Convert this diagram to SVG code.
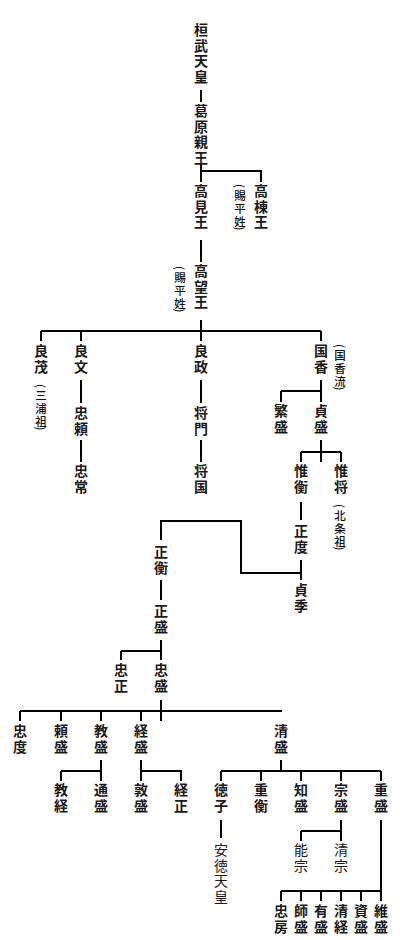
<svg xmlns="http://www.w3.org/2000/svg" width="400" height="940" viewBox="0 0 400 940">
<style>
text{font-family:"Noto Sans CJK JP","Noto Sans CJK SC",sans-serif;fill:#1a1a1a;text-anchor:middle;dominant-baseline:central}
.n{font-size:14px;font-weight:bold}
.l{font-size:14px;font-weight:normal}
.a{font-size:11.5px;font-weight:500;fill:#111}
.c{fill:none;stroke:#000;stroke-width:2;stroke-linecap:butt}
</style>
<rect width="400" height="940" fill="#fff"/>
<g id="connectors" class="c">
<path d="M201 90V102"/>
<path d="M201 163V182M201 171H261V182"/>
<path d="M201 240V262"/>
<path d="M201 320V341M41 331H321M41 331V341M81 331V341M321 331V341"/>
<path d="M81 380V403M201 380V403M81 440V462M201 440V462"/>
<path d="M321 380V402M281 391H321M281 391V402"/>
<path d="M321 440V462M301 452H341M301 452V462M341 452V462"/>
<path d="M301 502V520M301 560V580M301 573H241V521H161V540"/>
<path d="M161 580V600M161 640V660M121 651H161M121 651V660"/>
<path d="M161 700V721M20 711H282M20 711V721M61 711V721M101 711V721M141 711V721"/>
<path d="M101 760V781M61 771H101M61 771V781M141 760V781M141 771H181V781"/>
<path d="M281 760V771M221 771H381M221 771V781M261 771V781M301 771V781M341 771V781M381 771V781"/>
<path d="M221 820V838"/>
<path d="M341 820V841M301 831H341M301 831V841"/>
<path d="M381 820V901M281 891H381M281 891V901M301 891V901M321 891V901M341 891V901M361 891V901"/>
</g>
<g id="kanmu"><text class="n"><tspan x="201" y="29">桓</tspan><tspan x="201" y="44.5">武</tspan><tspan x="201" y="60">天</tspan><tspan x="201" y="75.5">皇</tspan></text></g>
<g id="kazurahara"><text class="n"><tspan x="201" y="110">葛</tspan><tspan x="201" y="125.5">原</tspan><tspan x="201" y="141">親</tspan><tspan x="201" y="156.5">王</tspan></text></g>
<g id="takami"><text class="n"><tspan x="201" y="190">高</tspan><tspan x="201" y="205.5">見</tspan><tspan x="201" y="221">王</tspan></text></g>
<g id="takamune"><text class="n"><tspan x="261" y="190">高</tspan><tspan x="261" y="205.5">棟</tspan><tspan x="261" y="221">王</tspan></text>
<text class="a" transform="translate(240 186) rotate(90)">(</text><text class="a"><tspan x="240" y="194.5">賜</tspan><tspan x="240" y="207.5">平</tspan><tspan x="240" y="220.5">姓</tspan></text><text class="a" transform="translate(240 228.5) rotate(90)">)</text></g>
<g id="takamochi"><text class="n"><tspan x="201" y="270">高</tspan><tspan x="201" y="285.5">望</tspan><tspan x="201" y="301">王</tspan></text>
<text class="a" transform="translate(180 268) rotate(90)">(</text><text class="a"><tspan x="180" y="276.5">賜</tspan><tspan x="180" y="289.5">平</tspan><tspan x="180" y="302.5">姓</tspan></text><text class="a" transform="translate(180 310.5) rotate(90)">)</text></g>
<g id="yoshimochi"><text class="n"><tspan x="41" y="350">良</tspan><tspan x="41" y="365.5">茂</tspan></text>
<text class="a" transform="translate(41 386) rotate(90)">(</text><text class="a"><tspan x="41" y="394.5">三</tspan><tspan x="41" y="407.5">浦</tspan><tspan x="41" y="420.5">祖</tspan></text><text class="a" transform="translate(41 428.5) rotate(90)">)</text></g>
<g id="yoshifumi"><text class="n"><tspan x="81" y="350">良</tspan><tspan x="81" y="365.5">文</tspan></text></g>
<g id="yoshimasa"><text class="n"><tspan x="201" y="350">良</tspan><tspan x="201" y="365.5">政</tspan></text></g>
<g id="kunika"><text class="n"><tspan x="321" y="350">国</tspan><tspan x="321" y="365.5">香</tspan></text>
<text class="a" transform="translate(340 346) rotate(90)">(</text><text class="a"><tspan x="340" y="354.5">国</tspan><tspan x="340" y="367.5">香</tspan><tspan x="340" y="380.5">流</tspan></text><text class="a" transform="translate(340 388.5) rotate(90)">)</text></g>
<g id="tadayori"><text class="n"><tspan x="81" y="412">忠</tspan><tspan x="81" y="427.5">頼</tspan></text></g>
<g id="masakado"><text class="n"><tspan x="201" y="412">将</tspan><tspan x="201" y="427.5">門</tspan></text></g>
<g id="shigemori0"><text class="n"><tspan x="281" y="410">繁</tspan><tspan x="281" y="425.5">盛</tspan></text></g>
<g id="sadamori"><text class="n"><tspan x="321" y="410">貞</tspan><tspan x="321" y="425.5">盛</tspan></text></g>
<g id="tadatsune"><text class="n"><tspan x="81" y="470">忠</tspan><tspan x="81" y="485.5">常</tspan></text></g>
<g id="masakuni"><text class="n"><tspan x="201" y="470">将</tspan><tspan x="201" y="485.5">国</tspan></text></g>
<g id="korehira"><text class="n"><tspan x="301" y="470">惟</tspan><tspan x="301" y="485.5">衡</tspan></text></g>
<g id="koremasa"><text class="n"><tspan x="341" y="470">惟</tspan><tspan x="341" y="485.5">将</tspan></text>
<text class="a" transform="translate(340 506) rotate(90)">(</text><text class="a"><tspan x="340" y="514.5">北</tspan><tspan x="340" y="527.5">条</tspan><tspan x="340" y="540.5">祖</tspan></text><text class="a" transform="translate(340 548.5) rotate(90)">)</text></g>
<g id="masanori"><text class="n"><tspan x="301" y="530">正</tspan><tspan x="301" y="545.5">度</tspan></text></g>
<g id="masahira"><text class="n"><tspan x="161" y="551">正</tspan><tspan x="161" y="566.5">衡</tspan></text></g>
<g id="sadasue"><text class="n"><tspan x="301" y="589">貞</tspan><tspan x="301" y="604.5">季</tspan></text></g>
<g id="masamori"><text class="n"><tspan x="161" y="610">正</tspan><tspan x="161" y="625.5">盛</tspan></text></g>
<g id="tadamasa"><text class="n"><tspan x="121" y="669">忠</tspan><tspan x="121" y="684.5">正</tspan></text></g>
<g id="tadamori"><text class="n"><tspan x="161" y="669">忠</tspan><tspan x="161" y="684.5">盛</tspan></text></g>
<g id="tadanori"><text class="n"><tspan x="20" y="730">忠</tspan><tspan x="20" y="745.5">度</tspan></text></g>
<g id="yorimori"><text class="n"><tspan x="61" y="730">頼</tspan><tspan x="61" y="745.5">盛</tspan></text></g>
<g id="norimori"><text class="n"><tspan x="101" y="730">教</tspan><tspan x="101" y="745.5">盛</tspan></text></g>
<g id="tsunemori"><text class="n"><tspan x="141" y="730">経</tspan><tspan x="141" y="745.5">盛</tspan></text></g>
<g id="kiyomori"><text class="n"><tspan x="281" y="730">清</tspan><tspan x="281" y="745.5">盛</tspan></text></g>
<g id="noritsune"><text class="n"><tspan x="61" y="789">教</tspan><tspan x="61" y="804.5">経</tspan></text></g>
<g id="michimori"><text class="n"><tspan x="101" y="789">通</tspan><tspan x="101" y="804.5">盛</tspan></text></g>
<g id="atsumori"><text class="n"><tspan x="141" y="789">敦</tspan><tspan x="141" y="804.5">盛</tspan></text></g>
<g id="tsunemasa"><text class="n"><tspan x="181" y="789">経</tspan><tspan x="181" y="804.5">正</tspan></text></g>
<g id="tokuko"><text class="n"><tspan x="221" y="789">徳</tspan><tspan x="221" y="804.5">子</tspan></text></g>
<g id="shigehira"><text class="n"><tspan x="261" y="789">重</tspan><tspan x="261" y="804.5">衡</tspan></text></g>
<g id="tomomori"><text class="n"><tspan x="301" y="789">知</tspan><tspan x="301" y="804.5">盛</tspan></text></g>
<g id="munemori"><text class="n"><tspan x="341" y="789">宗</tspan><tspan x="341" y="804.5">盛</tspan></text></g>
<g id="shigemori"><text class="n"><tspan x="381" y="789">重</tspan><tspan x="381" y="804.5">盛</tspan></text></g>
<g id="antoku"><text class="l"><tspan x="221" y="849">安</tspan><tspan x="221" y="864.5">徳</tspan><tspan x="221" y="880">天</tspan><tspan x="221" y="895.5">皇</tspan></text></g>
<g id="yoshimune"><text class="l"><tspan x="301" y="849">能</tspan><tspan x="301" y="864.5">宗</tspan></text></g>
<g id="kiyomune"><text class="l"><tspan x="341" y="849">清</tspan><tspan x="341" y="864.5">宗</tspan></text></g>
<g id="tadafusa"><text class="n"><tspan x="281" y="910">忠</tspan><tspan x="281" y="925.5">房</tspan></text></g>
<g id="moromori"><text class="n"><tspan x="301" y="910">師</tspan><tspan x="301" y="925.5">盛</tspan></text></g>
<g id="arimori"><text class="n"><tspan x="321" y="910">有</tspan><tspan x="321" y="925.5">盛</tspan></text></g>
<g id="kiyotsune"><text class="n"><tspan x="341" y="910">清</tspan><tspan x="341" y="925.5">経</tspan></text></g>
<g id="sukemori"><text class="n"><tspan x="361" y="910">資</tspan><tspan x="361" y="925.5">盛</tspan></text></g>
<g id="koremori"><text class="n"><tspan x="381" y="910">維</tspan><tspan x="381" y="925.5">盛</tspan></text></g>
</svg>
